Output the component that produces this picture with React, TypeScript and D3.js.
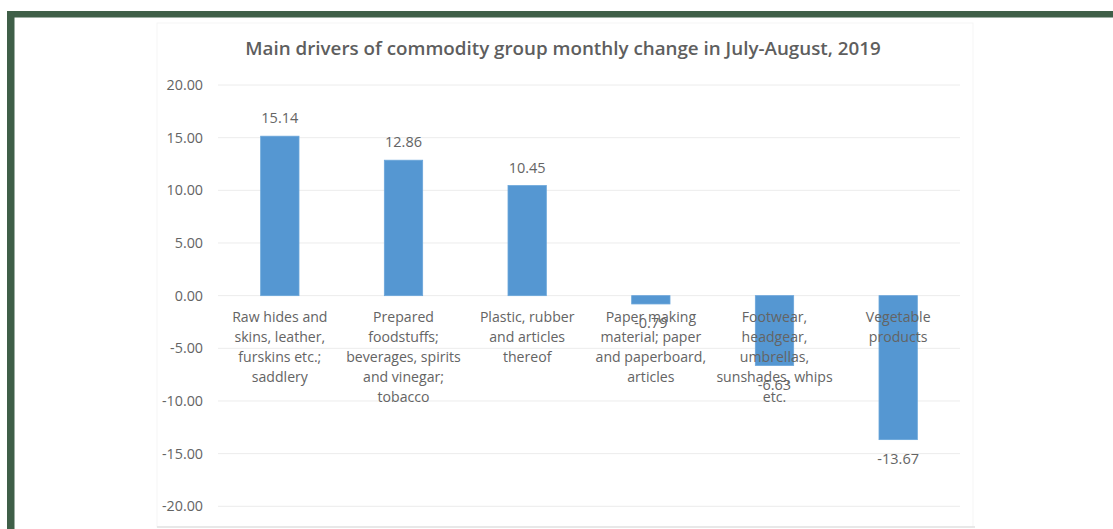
import React from "react";
import * as d3 from "d3";

const title = "Main drivers of commodity group monthly change in July-August, 2019";
const categories: string[][] = [
  ["Raw hides and", "skins, leather,", "furskins etc.;", "saddlery"],
  ["Prepared", "foodstuffs;", "beverages, spirits", "and vinegar;", "tobacco"],
  ["Plastic, rubber", "and articles", "thereof"],
  ["Paper making", "material; paper", "and paperboard,", "articles"],
  ["Footwear,", "headgear,", "umbrellas,", "sunshades, whips", "etc."],
  ["Vegetable", "products"],
];
const values = [15.14, 12.86, 10.45, -0.79, -6.63, -13.67];
const yTicks = [20, 15, 10, 5, 0, -5, -10, -15, -20];

const W = 1113;
const H = 529;
const FONT = "'Open Sans', sans-serif";
const GRAY = "#646464";

export default function App() {
  const x = d3
    .scaleBand<number>()
    .domain(values.map((_, i) => i))
    .range([218, 960])
    .paddingInner(0.69)
    .paddingOuter(0.345);
  const y = d3.scaleLinear().domain([-20, 20]).range([506.3, 85]);
  const bw = x.bandwidth();

  return (
    <div style={{ position: "absolute", left: 0, top: 0 }}>
      <svg width={W} height={H} style={{ display: "block", background: "#fff" }}>
        <rect x={0} y={0} width={W} height={H} fill="#fff" />
        {/* green frame */}
        <rect x={7} y={11} width={W - 7} height={6.5} fill="#3f5f48" />
        <rect x={7} y={11} width={7.5} height={H - 11} fill="#3f5f48" />
        {/* chart area border (very faint) */}
        <rect x={157} y={23} width={816} height={504} fill="none" stroke="#f5f5f5" strokeWidth={1} />
        <line x1={157} x2={975} y1={527} y2={527} stroke="#e2e2e2" strokeWidth={1.5} />
        <text
          x={563}
          y={55}
          textAnchor="middle"
          fontFamily={FONT}
          fontSize={18.8}
          fontWeight={600}
          fill="#5e5e5e"
        >
          {title}
        </text>
        {/* gridlines + y ticks */}
        {yTicks.map((t) => (
          <g key={t}>
            <line x1={218} x2={960} y1={y(t)} y2={y(t)} stroke="#ececec" strokeWidth={1} />
            <text
              x={203}
              y={y(t)}
              dy="0.35em"
              textAnchor="end"
              fontFamily={FONT}
              fontSize={14.3}
              fill={GRAY}
            >
              {t.toFixed(2)}
            </text>
          </g>
        ))}
        {/* bars */}
        {values.map((v, i) => (
          <rect
            key={i}
            x={x(i)!}
            y={Math.min(y(v), y(0))}
            width={bw}
            height={Math.abs(y(v) - y(0))}
            fill="#5597d2"
            stroke="#6aa6da"
            strokeWidth={0.8}
          />
        ))}
        {/* category labels */}
        {categories.map((lines, i) => (
          <text
            key={i}
            x={x(i)! + bw / 2}
            textAnchor="middle"
            fontFamily={FONT}
            fontSize={14.1}
            fill={GRAY}
          >
            {lines.map((l, j) => (
              <tspan key={j} x={x(i)! + bw / 2} y={317 + j * 20} dy="0.35em">
                {l}
              </tspan>
            ))}
          </text>
        ))}
        {/* data labels */}
        {values.map((v, i) => (
          <text
            key={i}
            x={x(i)! + bw / 2}
            y={v >= 0 ? y(v) - 18 : y(v) + 19}
            dy="0.35em"
            textAnchor="middle"
            fontFamily={FONT}
            fontSize={14.5}
            fill={GRAY}
          >
            {v.toFixed(2)}
          </text>
        ))}
      </svg>
    </div>
  );
}
